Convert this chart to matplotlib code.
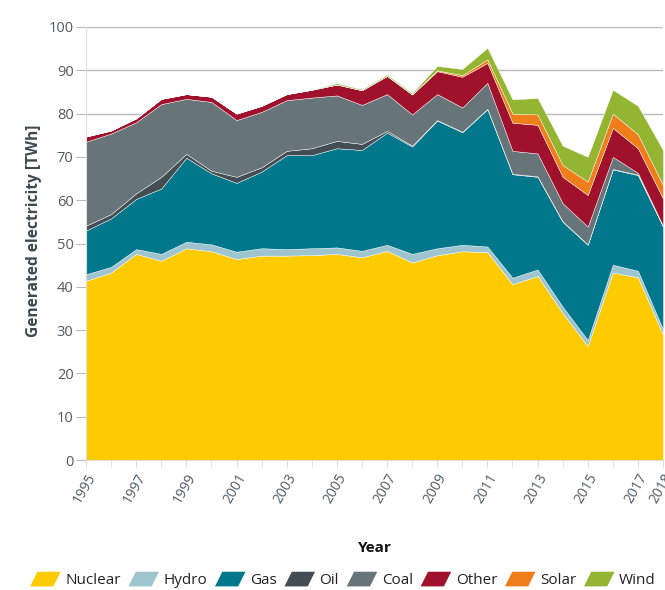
import matplotlib
matplotlib.use("Agg")
import matplotlib.pyplot as plt
from matplotlib.patches import Polygon
from matplotlib.legend_handler import HandlerPatch
import matplotlib.patches as mpatches

years = list(range(1995, 2019))
nuclear = [41.4, 43.3, 47.6, 46.0, 48.9, 48.2, 46.4, 47.2, 47.2, 47.3, 47.6, 46.8,
           48.3, 45.6, 47.3, 48.2, 48.0, 40.6, 42.5, 33.9, 26.3, 43.3, 42.2, 28.9]
hydro = [1.5, 1.3, 1.1, 1.6, 1.5, 1.6, 1.7, 1.7, 1.5, 1.6, 1.5, 1.5,
         1.4, 2.0, 1.6, 1.5, 1.3, 1.5, 1.5, 1.5, 1.4, 1.8, 1.5, 1.3]
gas = [10.1, 11.2, 11.6, 15.1, 19.4, 16.4, 15.9, 17.7, 21.7, 21.5, 22.9, 23.3,
       25.9, 24.8, 29.5, 26.0, 31.7, 23.9, 21.4, 19.6, 22.0, 22.0, 22.1, 23.7]
oil = [1.1, 1.0, 1.3, 2.7, 0.9, 0.6, 1.4, 1.0, 1.0, 1.6, 1.7, 1.4,
       0.4, 0.2, 0.1, 0.1, 0.1, 0.1, 0.1, 0.1, 0.1, 0.1, 0.1, 0.1]
coal = [19.4, 18.6, 16.4, 16.8, 12.7, 15.9, 13.1, 12.8, 11.7, 11.7, 10.5, 9.0,
        8.5, 7.2, 6.0, 5.6, 6.0, 5.3, 5.3, 4.2, 4.1, 2.8, 0.4, 0.1]
other = [1.2, 0.7, 0.9, 1.2, 1.1, 1.2, 1.5, 1.4, 1.4, 1.8, 2.5, 3.4,
         4.2, 4.6, 5.3, 7.1, 4.6, 6.5, 6.6, 6.1, 7.3, 6.7, 5.7, 6.3]
solar = [0, 0, 0, 0, 0, 0, 0, 0, 0, 0, 0, 0,
         0, 0.05, 0.2, 0.4, 0.8, 2.1, 2.4, 2.7, 3.1, 3.3, 3.2, 3.1]
wind = [0, 0, 0, 0, 0, 0, 0, 0, 0, 0.05, 0.3, 0.2,
        0.3, 0.3, 1.0, 1.4, 2.7, 3.3, 3.8, 4.5, 5.7, 5.5, 6.6, 8.1]

series_names = ["Nuclear", "Hydro", "Gas", "Oil", "Coal", "Other", "Solar", "Wind"]
colors = ["#fecb00", "#9dc4cf", "#00778b", "#424d54", "#677479", "#a0112b", "#ef7d1a", "#93b532"]

plt.rcParams['font.family'] = ['Open Sans', 'DejaVu Sans']

fig = plt.figure(figsize=(6.65, 5.90), dpi=100)
ax = fig.add_axes([86/665, 1 - 460/590, (663-86)/665, (460-27)/590])

ax.stackplot(years, nuclear, hydro, gas, oil, coal, other, solar, wind,
             colors=colors, labels=series_names, edgecolor='white', linewidth=0.3)

ax.set_xlim(1995, 2018)
ax.set_ylim(0, 100)
ax.set_yticks(range(0, 101, 10))
ax.yaxis.grid(True, color='#b9b9b9', linewidth=1.0)
ax.set_axisbelow(True)

xt = list(range(1995, 2018, 2)) + [2018]
ax.set_xticks(xt)
ax.set_xticklabels([str(y) for y in xt], rotation=60, ha='right', rotation_mode='anchor')
ax.set_xticks(years, minor=True)

for s in ['top', 'right']:
    ax.spines[s].set_visible(False)
ax.spines['left'].set_color('#dddddd')
ax.spines['bottom'].set_color('#dddddd')
ax.tick_params(axis='y', length=7, color='#b9b9b9', labelcolor='#4f5b62', labelsize=10.5, pad=2)
ax.tick_params(axis='x', which='both', length=5, color='#dddddd', labelcolor='#4f5b62', labelsize=10, pad=3)

ax.set_ylabel("Generated electricity [TWh]", fontsize=11.2, fontweight='bold', color='#3d4950')
ax.yaxis.set_label_coords(-(86-42)/577, (460-231)/433)
fig.text((86+663)/2/665, 1 - 548/590, "Year", fontsize=11, fontweight='bold', color='#111111', ha='center', va='center')


class HandlerPara(HandlerPatch):
    def create_artists(self, legend, orig_handle, xdescent, ydescent, width, height, fontsize, trans):
        sk = height * 0.5
        pts = [(-xdescent + sk, -ydescent + height), (-xdescent + width, -ydescent + height),
               (-xdescent + width - sk, -ydescent), (-xdescent, -ydescent)]
        p = Polygon(pts, closed=True, facecolor=orig_handle.get_facecolor(), edgecolor='none')
        p.set_transform(trans)
        return [p]

handles = [mpatches.Patch(facecolor=c, label=n) for c, n in zip(colors, series_names)]
leg = fig.legend(handles=handles, loc='center', bbox_to_anchor=((28+658)/2/665, 1 - 580/590), ncol=8,
                 frameon=False, fontsize=11, handlelength=2.0, handleheight=1.1,
                 handletextpad=0.3, columnspacing=0.5,
                 handler_map={mpatches.Patch: HandlerPara()})
for t in leg.get_texts():
    t.set_color('#222222')

fig.savefig("out.png", dpi=100)
